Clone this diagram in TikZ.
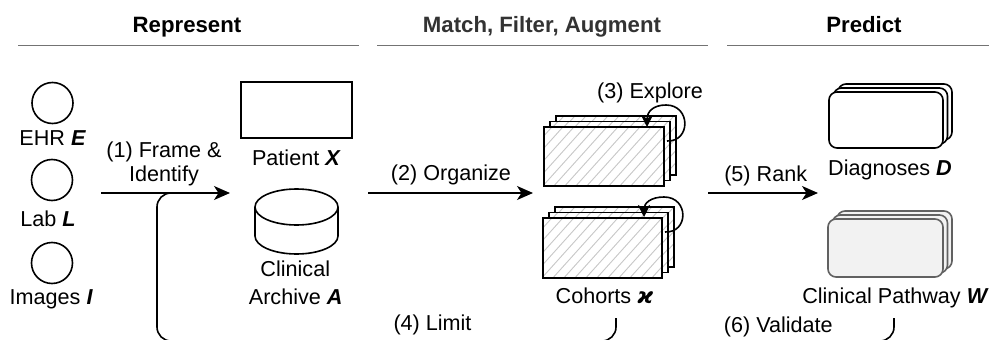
\documentclass[tikz,border=0pt]{standalone}
\usepackage{fontspec}
\setmainfont{Liberation Sans}
\newfontfamily\greekfont{DejaVu Sans}
\usetikzlibrary{arrows.meta}

\tikzset{
  x=1pt, y=-1pt,
  lbl/.style={font=\fontsize{21.6}{24}\selectfont, inner sep=0pt, anchor=base},
  hdr/.style={font=\fontsize{22.2}{26}\selectfont\bfseries, inner sep=0pt, anchor=base},
  rule/.style={draw=black!55, line width=1.6pt},
  src/.style={circle, draw, line width=1.6pt, minimum size=41pt, inner sep=0pt},
  box/.style={draw, line width=1.6pt, minimum width=111pt, minimum height=56pt, inner sep=0pt},
  flow/.style={line width=1.6pt, -{Stealth[length=16pt,width=14pt,inset=4.5pt]}},
  selfloop/.style={line width=1.6pt, -{Stealth[length=12pt,width=12pt,inset=3.5pt]}},
  feedback/.style={line width=1.6pt, rounded corners=14pt},
  cardedge/.style={draw, line width=1.6pt},
  hatchline/.style={draw=black!22, line width=0.9pt},
  doc/.style={draw, line width=1.6pt, fill=white, rounded corners=8pt},
  docgray/.style={draw=black!62, line width=1.6pt, fill=black!5, rounded corners=8pt},
}

% hatched card: left x, top y, right x, bottom y
\newcommand\hatchcard[4]{%
  \fill[white] (#1,#2) rectangle (#3,#4);
  \begin{scope}
    \clip (#1,#2) rectangle (#3,#4);
    \foreach \k in {-80,-69,...,140}
      \draw[hatchline] (#1+\k,#4+2) -- ++(72,-80);
  \end{scope}
  \draw[cardedge] (#1,#2) rectangle (#3,#4);
}

\newcommand\bi[1]{\textbf{\textit{#1}}}

\begin{document}
\begin{tikzpicture}
\useasboundingbox (0,0) rectangle (989,340);

% section headers
\node[hdr] (hRep) at (187,32.3) {Represent};
\node[hdr, text=black!80] (hMatch) at (542,32.3) {Match, Filter, Augment};
\node[hdr] (hPred) at (864,32.3) {Predict};
\draw[rule] (18,45.5) -- (359,45.5);
\draw[rule] (377,45.5) -- (708,45.5);
\draw[rule] (727,45.5) -- (989,45.5);

% data sources
\node[src] (ehr) at (52.5,103) {};
\node[lbl] (ehrT) at (52.7,145.6) {EHR \bi{E}};
\node[src] (lab) at (52,180) {};
\node[lbl] (labT) at (48,226.7) {Lab \bi{L}};
\node[src] (img) at (52,263) {};
\node[lbl] (imgT) at (51.3,304) {Images \bi{I}};

% patient and archive
\node[box] (patient) at (296.5,110) {};
\node[lbl] (patientT) at (296.4,165) {Patient \bi{X}};
\coordinate (archive) at (296.5,207);
\draw[line width=1.6pt, fill=white] ([xshift=-41.5pt]archive) -- ++(0,29)
  arc[start angle=180, end angle=360, x radius=41.5pt, y radius=18pt] -- ++(0,-29);
\draw[line width=1.6pt] (archive) ellipse[x radius=41.5pt, y radius=18pt];
\node[lbl] (archT1) at (295.3,276.7) {Clinical};
\node[lbl] (archT2) at (295.7,304) {Archive \bi{A}};

% cohort stacks
\hatchcard{556}{116}{676}{175}
\hatchcard{550}{121.5}{670}{180.5}
\hatchcard{544}{127}{664}{186}
\hatchcard{555}{207}{674}{267}
\hatchcard{549}{212.5}{668}{272.5}
\hatchcard{543}{218}{662}{278}
\draw[selfloop] (667,141) .. controls (691,142) and (691,105) .. (666,105)
  .. controls (653,105) and (647,112) .. (647,127);
\draw[selfloop] (665,232) .. controls (689,233) and (689,197) .. (664,197)
  .. controls (651,197) and (644,203) .. (644,217);
\node[lbl] (exploreT) at (650,98.3) {(3) Explore};
\node[lbl] (cohortT) at (604.5,303.3) {Cohorts {\greekfont\bfseries\itshape ϰ}};

% predictions
\draw[doc] (838,84) rectangle (952,140);
\draw[doc] (833.5,88) rectangle (947.5,144);
\draw[doc] (829,92) rectangle (943,148);
\node[lbl] (diagT) at (890,175.7) {Diagnoses \bi{D}};
\draw[docgray] (837,211) rectangle (952,269);
\draw[docgray] (832.5,215) rectangle (947.5,273);
\draw[docgray] (828,219) rectangle (943,277);
\node[lbl] (pathT) at (895.5,303.3) {Clinical Pathway \bi{W}};

% forward flow
\coordinate (f1s) at (101,193);
\coordinate (f1e) at (230,193);
\coordinate (f2s) at (368,193);
\coordinate (f2e) at (533,193);
\coordinate (f5s) at (708,193);
\coordinate (f5e) at (818,193);
\draw[flow] (f1s) -- (f1e);
\draw[flow] (f2s) -- (f2e);
\draw[flow] (f5s) -- (f5e);
\node[lbl] (frameT1) at (164,157.3) {(1) Frame \&};
\node[lbl] (frameT2) at (164,181) {Identify};
\node[lbl] (organizeT) at (451,180) {(2) Organize};
\node[lbl] (rankT) at (765.7,181) {(5) Rank};

% feedback loops
\coordinate (cohortOut) at (616,318);
\coordinate (pathOut) at (894,318);
\coordinate (joinIn) at (200,193);
\coordinate (limitEnd) at (560,341);
\draw[feedback] (pathOut) -- (894,341) -- (157,341) -- (157,193) -- (joinIn);
\draw[feedback] (cohortOut) -- (616,341) -- (limitEnd);
\node[lbl] (limitT) at (432.5,330) {(4) Limit};
\node[lbl] (validateT) at (778.3,332.3) {(6) Validate};
\end{tikzpicture}
\end{document}
